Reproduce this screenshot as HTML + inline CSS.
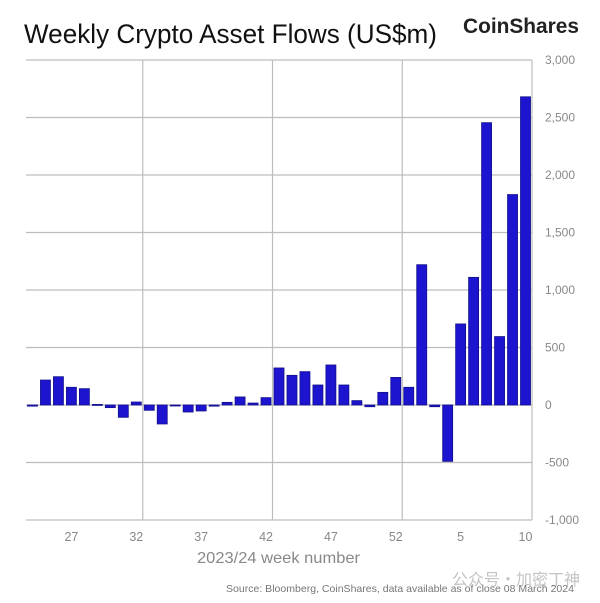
<!DOCTYPE html>
<html><head><meta charset="utf-8">
<style>
html,body{margin:0;padding:0;background:#fff;}
svg{display:block;font-family:"Liberation Sans","Noto Sans CJK SC",sans-serif;}
</style></head>
<body>
<svg id="chart" width="600" height="603" viewBox="0 0 600 603">
<text x="24" y="43" font-size="27" fill="#111" textLength="413" lengthAdjust="spacingAndGlyphs">Weekly Crypto Asset Flows (US$m)</text>
<text x="463" y="33" font-size="21" font-weight="bold" fill="#222" textLength="116" lengthAdjust="spacingAndGlyphs">CoinShares</text>
<g id="grid"></g>
<g id="bars"></g>
<g id="labels"></g>
<text x="197" y="563" font-size="16" fill="#888" textLength="163" lengthAdjust="spacingAndGlyphs">2023/24 week number</text>
<text x="452" y="585" font-size="16" fill="#c4c4c4">公众号・加密丁神</text>
<text x="226" y="592" font-size="10.5" fill="#777" textLength="348" lengthAdjust="spacingAndGlyphs">Source: Bloomberg, CoinShares, data available as of close 08 March 2024</text>
</svg>
<script>
const weeks = [24,25,26,27,28,29,30,31,32,33,34,35,36,37,38,39,40,41,42,43,44,45,46,47,48,49,50,51,52,1,2,3,4,5,6,7,8,9,10];
const flows = [-10,217,246,154,142,5,-23,-107,26,-46,-165,0,-61,-52,-10,23,70,17,64,322,258,290,174,348,174,38,-15,110,240,154,1220,-15,-490,705,1110,2455,595,1830,2680];
const yTicks = [3000,2500,2000,1500,1000,500,0,-500,-1000];
const yTickLabels = ["3,000","2,500","2,000","1,500","1,000","500","0","-500","-1,000"];
const xLabelWeeks = [27,32,37,42,47,52,5,10];

const NS="http://www.w3.org/2000/svg";
const L=26,R=532,T=60,B=520,yMin=-1000,yMax=3000;
const band=(R-L)/weeks.length;
function y(v){return T+(yMax-v)/(yMax-yMin)*(B-T);}
function xc(i){return L+band*(i+0.5);}
function mk(tag,attrs,parent){const e=document.createElementNS(NS,tag);for(const k in attrs)e.setAttribute(k,attrs[k]);parent.appendChild(e);return e;}
const grid=document.getElementById('grid'),bars=document.getElementById('bars'),labels=document.getElementById('labels');
yTicks.forEach((t,k)=>{
  const ln=mk('line',{x1:L,x2:R,y1:y(t),y2:y(t),stroke:'#bdbdbd','stroke-width':1.2},grid);
  
  
  const tx=mk('text',{x:545,y:y(t)+4,'font-size':12,fill:'#888'},labels);
  tx.textContent=yTickLabels[k];
  
  
});
[9,19,29,39].forEach(k=>{
  const x=L+band*k;
  const ln=mk('line',{x1:x,x2:x,y1:T,y2:B,stroke:'#bdbdbd','stroke-width':1.2},grid);
  
  
});
weeks.forEach((w,i)=>{
  const v=flows[i];
  const y0=y(0),y1=y(v);
  const r=mk('rect',{x:xc(i)-5,y:Math.min(y0,y1),width:10,height:Math.max(1,Math.abs(y1-y0)),fill:'#1c14cf',stroke:'#12108a','stroke-width':0.8},bars);
  
  
  if(xLabelWeeks.includes(w)&&!(w===5&&i<29)&&!(w===10&&i<29)){
    const tx=mk('text',{x:xc(i),y:541,'font-size':12.5,fill:'#888','text-anchor':'middle'},labels);
    tx.textContent=w;
    
    
  }
});
</script>
</body></html>
